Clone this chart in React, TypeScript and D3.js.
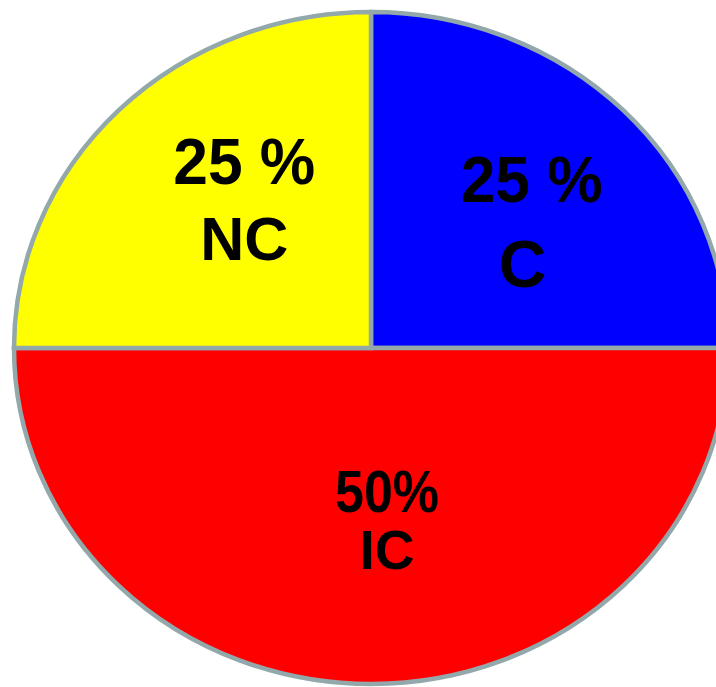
import React, { useEffect } from "react";
import * as d3 from "d3";

// Data
const categories = ["C", "IC", "NC"];
const values = [25, 50, 25];
const percentLabels = ["25 %", "50%", "25 %"];
const colors = ["#0000ff", "#ff0000", "#ffff00"];

// Layout (label placement as fraction of radii, font sizes)
const labelOffsets: [number, number][] = [
  [0.45, -0.38],
  [0.045, 0.51],
  [-0.355, -0.44],
];
const pctDy = [-18, -7, -16];
const catDy = [67, 50, 60];
const catDx = [-9, 0, 0];
const pctSizes = [64, 60, 64];
const catSizes = [66, 55, 61];
const pctWidths = [142, 104, 142];

const W = 716;
const H = 687;
const cx = 371;
const cy = 348;
const rx = 357;
const ry = 336;

export default function App() {
  useEffect(() => {
    document.body.style.margin = "0";
  }, []);

  const pie = d3
    .pie<number>()
    .sort(null)
    .startAngle(0)
    .endAngle(2 * Math.PI)
    .value((d) => d);
  const arcs = pie(values);
  const arc = d3.arc<d3.PieArcDatum<number>>().innerRadius(0).outerRadius(1);
  const sx = d3.scaleLinear().domain([-1, 1]).range([cx - rx, cx + rx]);
  const sy = d3.scaleLinear().domain([-1, 1]).range([cy - ry, cy + ry]);

  return (
    <svg width={W} height={H} style={{ display: "block" }}>
      <g transform={`translate(${cx},${cy}) scale(${rx},${ry})`}>
        {arcs.map((a, i) => (
          <path
            key={categories[i]}
            d={arc(a) || ""}
            fill={colors[i]}
            stroke="#93a8ab"
            strokeWidth={4.5}
            strokeLinejoin="miter"
            vectorEffect="non-scaling-stroke"
          />
        ))}
      </g>
      {arcs.map((a, i) => {
        const x = sx(labelOffsets[i][0]);
        const y = sy(labelOffsets[i][1]);
        return (
          <g
            key={"l" + i}
            fontFamily="'Liberation Sans', Arial, sans-serif"
            fontWeight="bold"
            fill="#000"
            textAnchor="middle"
          >
            <text
              x={x}
              y={y + pctDy[i]}
              fontSize={pctSizes[i]}
              textLength={pctWidths[i]}
              lengthAdjust="spacingAndGlyphs"
            >
              {percentLabels[i]}
            </text>
            <text x={x + catDx[i]} y={y + catDy[i]} fontSize={catSizes[i]}>
              {categories[i]}
            </text>
          </g>
        );
      })}
    </svg>
  );
}
